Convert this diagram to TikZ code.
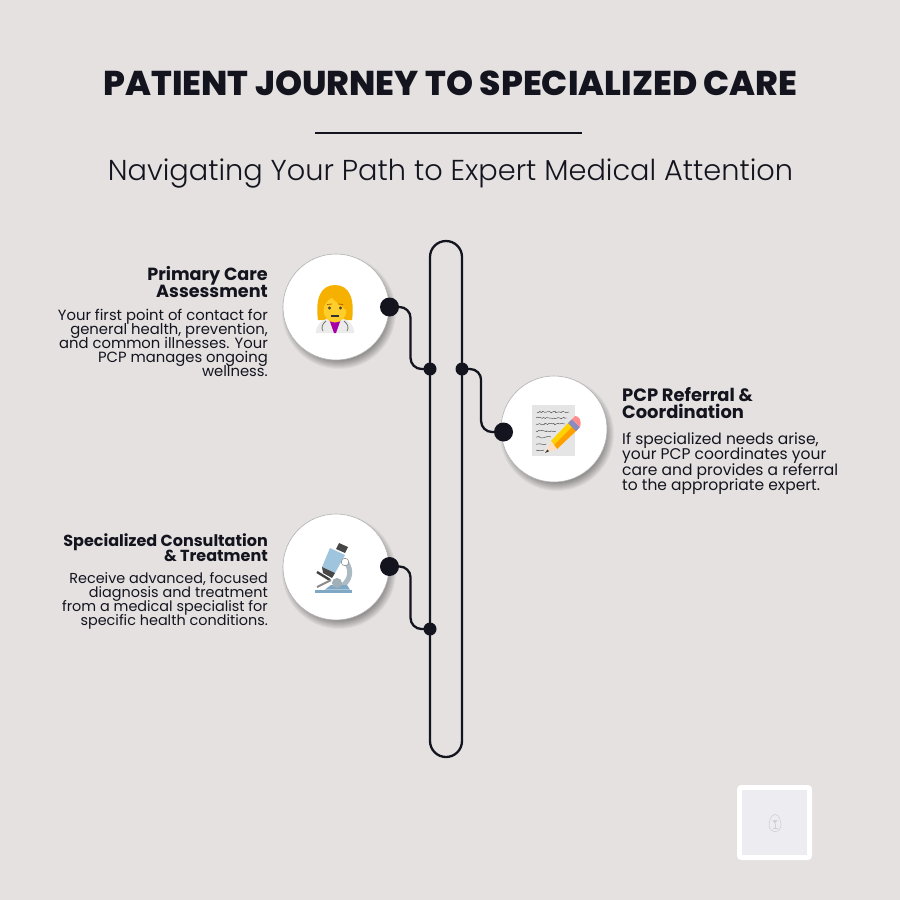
\documentclass[tikz,border=0pt]{standalone}
\usepackage{fontspec}
\setmainfont{Poppins}
\newfontfamily\heavyfont{Poppins ExtraBold}
\newfontfamily\lightfont{Poppins Light}
\usepackage{xcolor}
\usetikzlibrary{positioning,calc,decorations.pathmorphing}
\definecolor{paper}{HTML}{E4E1E0}
\definecolor{ink}{HTML}{14141F}
\definecolor{hairy}{HTML}{F5B000}
\definecolor{skin}{HTML}{FFCE2B}
\definecolor{tube}{HTML}{9FC4DE}
\definecolor{steel}{HTML}{C9DBE5}
\definecolor{foot}{HTML}{7FA8C4}
\definecolor{badge}{HTML}{EDECF1}
\newcommand{\tightlines}{\lineskiplimit=-30pt\relax}

\tikzset{
	headline/.style={anchor=base,font=\fontsize{34.4}{34}\selectfont\heavyfont,text=ink,inner sep=0pt},
	subline/.style={anchor=base,font=\fontsize{28.8}{28}\selectfont\lightfont,text=ink,inner sep=0pt},
	steptitle/.style 2 args={inner sep=0pt,font=\fontsize{#1}{#2}\selectfont\bfseries\tightlines,text=ink},
	stepbody/.style 2 args={inner sep=0pt,font=\fontsize{#1}{#2}\selectfont\tightlines,text=ink},
	disc/.style={circle,fill=white,draw=black!30,line width=0.6pt,minimum size=106pt,inner sep=0pt},
	bigdot/.style={circle,fill=ink,minimum size=19pt,inner sep=0pt},
	smalldot/.style={circle,fill=ink,minimum size=13pt,inner sep=0pt},
	conn/.style={draw=ink,line width=2.3pt,rounded corners=11pt},
	scribble/.style={black!70,line width=0.45pt,decorate,decoration={random steps,segment length=1.6pt,amplitude=0.9pt}},
}

\begin{document}
\begin{tikzpicture}[x=1pt,y=-1pt]
	\fill[paper] (0,0) rectangle (900,900);
	\useasboundingbox (0,0) rectangle (900,900);

	% title
	\node[headline] (title) at (450.5,95) {PATIENT JOURNEY TO SPECIALIZED CARE};
	\coordinate (ruleL) at (315,132.5);
	\coordinate (ruleR) at (582,132.5);
	\draw[ink,line width=2pt] (ruleL) -- (ruleR);
	\node[subline] (subtitle) at (450.5,180) {Navigating Your Path to Expert Medical Attention};

	% track
	\draw[ink,line width=2.3pt,rounded corners=16pt] (430,241) rectangle (462,757);

	% shadows
	\foreach \cx/\cy in {336/307,554/429,336/567}{
		\foreach \r in {57,56,55,54,53,52,51,50,49,48}{
			\fill[black,opacity=0.042] (\cx+3,\cy+5) circle (\r);
		}
	}

	% discs
	\node[disc] (discA) at (336,307) {};
	\node[disc] (discB) at (554,429) {};
	\node[disc] (discC) at (336,567) {};

	% doctor
	\fill[hairy] (318,320) .. controls (315,298) and (321,285) .. (335,285) .. controls (349,285) and (355,298) .. (352,320) -- cycle;
	\fill[black!8] (316,333) .. controls (316,324) and (322,320) .. (329,318) -- (341,318) .. controls (348,320) and (354,324) .. (354,333) -- cycle;
	\fill[violet!70!magenta] (329,319) -- (341,319) -- (336,333) -- (334,333) -- cycle;
	\fill[skin] (335,310) ellipse (11.5 and 12.5);
	\fill[hairy] (323,311) .. controls (324,303) and (328,301) .. (331,296) .. controls (334,302) and (342,305) .. (347,311) -- (347,295) -- (323,295) -- cycle;
	\fill[black!75] (329.5,308) circle (1.7) (340.5,308) circle (1.7);
	\draw[orange!70!black,line width=0.7pt] (327,304.5) -- (332,304) (338,304) -- (343,304.5);
	\draw[black!80,line width=1.4pt] (331,316) -- (339,316);
	\draw[black!55,line width=0.8pt] (326,321) .. controls (322,324) and (321,328) .. (323,331) (344,321) .. controls (348,324) and (349,328) .. (347,331);

	% memo and pencil
	\fill[black!10] (532,405) rectangle (575,456);
	\foreach \ly/\la/\lb in {412/537/569,418/536/567,424/536/565,431/536/556,437/536/551,444/536/546,450/536/544}{
		\draw[scribble] (\la,\ly) -- (\lb,\ly);
	}
	\fill[yellow!70!orange] (551,441) -- (570,421) -- (578,429) -- (557,449) -- cycle;
	\fill[orange!75!yellow] (554,445) -- (574,425) -- (578,429) -- (557,449) -- cycle;
	\fill[orange!25] (551,441) -- (557,449) -- (545,453) -- cycle;
	\fill[black!80] (547.5,449.5) -- (549,451.2) -- (545,453) -- cycle;
	\fill[blue!30!gray!70] (568,423) -- (572,419) -- (580,427) -- (576,431) -- cycle;
	\fill[red!45!white] (572,419) -- (575,416) .. controls (579,416) and (582,420) .. (580,427) -- cycle;

	% microscope
	\fill[foot] (315,589.5) rectangle (352,593);
	\draw[steel!85!black,line width=5pt] (346,562) .. controls (352,570) and (351,580) .. (341,587);
	\fill[foot] (325,589.5) -- (331,585) -- (347,585) -- (350,589.5) -- cycle;
	\fill[steel!80!black] (337,583) circle (5);
	\draw[black!75,line width=2.4pt] (317,572) -- (330,580);
	\draw[black!45,line width=2pt] (317,587) -- (331,580);
	\fill[tube] (330,548) -- (345,555) -- (335,573) -- (322,567) -- cycle;
	\fill[black!72] (339,543) -- (348,547) -- (345,553) -- (336,549) -- cycle;
	\fill[black!72] (322,567) -- (335,573) -- (332,578) -- (323,573) -- cycle;
	\fill[white,draw=black!50,line width=0.5pt] (345,562) circle (3.8);

	% joints
	\node[smalldot] (jointA) at (430,369) {};
	\node[smalldot] (jointB) at (462,369) {};
	\node[smalldot] (jointC) at (430,629) {};
	\node[bigdot] (dotA) at (389.5,307) {};
	\node[bigdot] (dotB) at (503.5,432) {};
	\node[bigdot] (dotC) at (389.5,566.5) {};
	\draw[conn] (dotA.center) -| ($(dotA)!0.52!(jointA)$) |- (jointA.center);
	\draw[conn] (jointB.center) -| ($(jointB)!0.46!(dotB)$) |- (dotB.center);
	\draw[conn] (dotC.center) -| ($(dotC)!0.52!(jointC)$) |- (jointC.center);

	% labels
	\node[steptitle={17.6}{17},anchor=north east,align=right] (headA) at (268,266) {Primary Care\\Assessment};
	\node[stepbody={14.8}{14},align=right,below=11pt of headA.south east,anchor=north east] (textA) {Your first point of contact for\\general health, prevention,\\and common illnesses. Your\\PCP manages ongoing\\wellness.};
	\node[steptitle={17.9}{17},anchor=north west,align=left] (headB) at (622,387) {PCP Referral \&\\Coordination};
	\node[stepbody={15.5}{15.3},align=left,below=14pt of headB.south west,anchor=north west] (textB) {If specialized needs arise,\\your PCP coordinates your\\care and provides a referral\\to the appropriate expert.};
	\node[steptitle={16}{15},anchor=north east,align=right] (headC) at (268,533) {Specialized Consultation\\\& Treatment};
	\node[stepbody={14.4}{14},align=right,below=11pt of headC.south east,anchor=north east] (textC) {Receive advanced, focused\\diagnosis and treatment\\from a medical specialist for\\specific health conditions.};

	% badge
	\fill[white,rounded corners=4pt] (737,785) rectangle (812,860);
	\fill[badge] (742,790) rectangle (807,855);
	\draw[black!18,line width=0.6pt] (775,814.5) .. controls (779,814.5) and (781,821) .. (781,825) .. controls (781,829) and (778,831.5) .. (775,831.5) .. controls (772,831.5) and (769,829) .. (769,825) .. controls (769,821) and (771,814.5) .. (775,814.5);
	\fill[black!18] (772.5,820) -- (777.5,820) -- (775,824) -- cycle;
	\draw[black!18,line width=0.5pt] (775,824) -- (775,828) (772.5,828) -- (777.5,828);
\end{tikzpicture}
\end{document}
